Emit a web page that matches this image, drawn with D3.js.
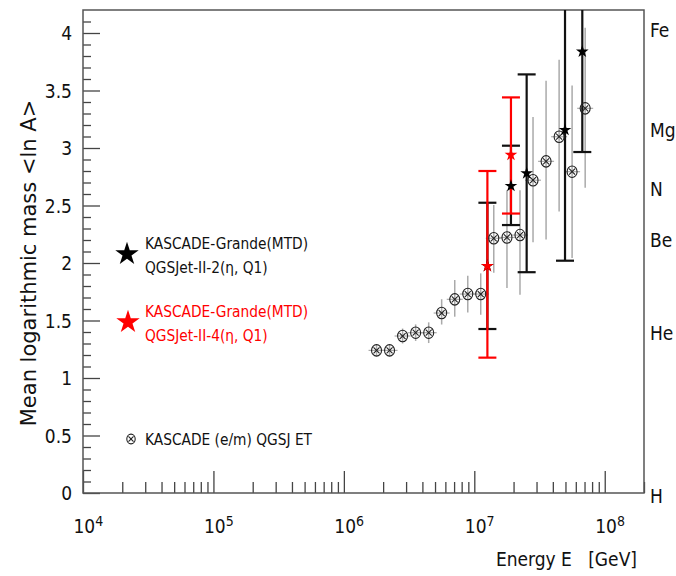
<!DOCTYPE html>
<html>
  <body style="margin:0;background:#fff">
    <style>
      svg { display: block; }
      text { font-family: "DejaVu Sans Condensed", "DejaVu Sans", sans-serif; font-stretch: condensed; }
      text.ytitle { font-family: "DejaVu Sans", sans-serif; font-stretch: normal; }
    </style>
    <script src="https://d3js.org/d3.v7.min.js"></script>
    <script type="text/javascript">
      const width = 676;
      const height = 576;

      // KASCADE (e/m) QGSJET
      const kasE = [1.78e6, 2.24e6, 2.82e6, 3.55e6, 4.47e6, 5.62e6, 7.08e6, 8.91e6, 1.12e7, 1.41e7, 1.78e7, 2.24e7, 2.82e7, 3.55e7, 4.47e7, 5.62e7, 7.08e7];
      const kasLnA = [1.24, 1.24, 1.365, 1.394, 1.394, 1.565, 1.684, 1.73, 1.73, 2.215, 2.222, 2.243, 2.72, 2.884, 3.098, 2.794, 3.345];
      const kasErrUp = [0.05, 0.05, 0.065, 0.072, 0.09, 0.12, 0.168, 0.16, 0.18, 0.29, 0.41, 0.39, 0.55, 0.70, 0.67, 0.75, 0.70];
      const kasErrDn = [0.05, 0.05, 0.065, 0.072, 0.09, 0.1, 0.151, 0.16, 0.18, 0.30, 0.44, 0.52, 0.54, 0.68, 0.65, 0.75, 0.69];

      // KASCADE-Grande (MTD) QGSJet-II-2
      const q2E = [1.26e7, 1.91e7, 2.52e7, 4.96e7, 6.73e7];
      const q2LnA = [1.974, 2.67, 2.78, 3.157, 3.838];
      const q2Hi = [2.524, 3.02, 3.64, 4.5, 4.5];
      const q2Lo = [1.426, 2.33, 1.92, 2.02, 2.965];

      // KASCADE-Grande (MTD) QGSJet-II-4
      const q4E = [1.26e7, 1.91e7];
      const q4LnA = [1.974, 2.94];
      const q4Hi = [2.80, 3.44];
      const q4Lo = [1.177, 2.43];

      const yMajor = [0, 0.5, 1, 1.5, 2, 2.5, 3, 3.5, 4];
      const xMajor = [1e4, 1e5, 1e6, 1e7, 1e8];
      const elements = ['Fe', 'Mg', 'N', 'Be', 'He', 'H'];
      const elementLnA = [4.03, 3.16, 2.64, 2.2, 1.39, -0.03];

      const mLeft = 83, mRight = 644, mTop = 10, mBottom = 493;

      const svg = d3.select('body')
        .append('svg')
        .attr('width', width)
        .attr('height', height);

      const x = d3.scaleLog().domain([1e4, 2e8]).range([mLeft, mRight]);
      const y = d3.scaleLinear().domain([0, 4.2]).range([mBottom, mTop]);

      svg.append('clipPath').attr('id', 'clip')
        .append('rect').attr('x', mLeft).attr('y', mTop).attr('width', mRight - mLeft).attr('height', mBottom - mTop);

      // minor ticks
      const yMinor = d3.range(0, 42).map((i) => i / 10).filter((v) => !yMajor.some((m) => Math.abs(m - v) < 1e-6));
      svg.append('g')
        .attr('transform', `translate(${mLeft},0)`)
        .call(d3.axisLeft(y).tickValues(yMinor).tickSize(-8).tickFormat(''))
        .call((g) => g.select('.domain').remove());

      const xMinor = [];
      [1e4, 1e5, 1e6, 1e7, 1e8].forEach((d) => [2, 3, 4, 5, 6, 7, 8, 9].forEach((k) => { if (d * k <= 2e8) xMinor.push(d * k) }));
      svg.append('g')
        .attr('transform', `translate(0,${mBottom})`)
        .call(d3.axisBottom(x).tickValues(xMinor).tickSize(-11).tickFormat(''))
        .call((g) => g.select('.domain').remove());

      // major ticks + labels
      const yAxis = svg.append('g')
        .attr('transform', `translate(${mLeft},0)`)
        .call(d3.axisLeft(y).tickValues(yMajor).tickSize(-17).tickPadding(11).tickFormat((d) => d))
        .call((g) => g.select('.domain').remove());
      yAxis.selectAll('text').attr('font-size', 19).attr('fill', '#111').attr('dy', '0.36em');

      const xAxis = svg.append('g')
        .attr('transform', `translate(0,${mBottom})`)
        .call(d3.axisBottom(x).tickValues(xMajor).tickSize(-22).tickPadding(27).tickFormat(''))
        .call((g) => g.select('.domain').remove());
      xAxis.selectAll('.tick text')
        .attr('font-size', 19)
        .attr('fill', '#111')
        .attr('text-anchor', 'start')
        .attr('x', -10)
        .each(function (d) {
          const t = d3.select(this);
          t.append('tspan').text('10');
          t.append('tspan').attr('dy', '-0.5em').attr('font-size', 14).text(Math.round(Math.log10(d)));
        });

      svg.selectAll('.tick line').attr('stroke', '#444').attr('stroke-width', 1.3);

      // frame
      svg.append('rect')
        .attr('x', mLeft).attr('y', mTop)
        .attr('width', mRight - mLeft).attr('height', mBottom - mTop)
        .attr('fill', 'none').attr('stroke', '#555').attr('stroke-width', 1.5);

      const plot = svg.append('g').attr('clip-path', 'url(#clip)');

      // KASCADE gray error bars
      plot.append('g').selectAll('line')
        .data(kasE)
        .join('line')
        .attr('x1', (d) => x(d)).attr('x2', (d) => x(d))
        .attr('y1', (d, i) => y(kasLnA[i] + kasErrUp[i]))
        .attr('y2', (d, i) => y(kasLnA[i] - kasErrDn[i]))
        .attr('stroke', '#aaa').attr('stroke-width', 1.5);
      plot.append('g').selectAll('line')
        .data(kasE)
        .join('line')
        .attr('x1', (d) => x(d) - 8).attr('x2', (d) => x(d) + 8)
        .attr('y1', (d, i) => y(kasLnA[i])).attr('y2', (d, i) => y(kasLnA[i]))
        .attr('stroke', '#aaa').attr('stroke-width', 1.2);

      // Grande error bars
      function errBars(E, hi, lo, color) {
        const g = plot.append('g').attr('stroke', color).attr('stroke-width', 2.2);
        g.selectAll('line.v').data(E).join('line').attr('class', 'v')
          .attr('x1', (d) => x(d)).attr('x2', (d) => x(d))
          .attr('y1', (d, i) => y(hi[i])).attr('y2', (d, i) => y(lo[i]));
        g.selectAll('line.hi').data(E).join('line').attr('class', 'hi')
          .attr('x1', (d) => x(d) - 9).attr('x2', (d) => x(d) + 9)
          .attr('y1', (d, i) => y(hi[i])).attr('y2', (d, i) => y(hi[i]));
        g.selectAll('line.lo').data(E).join('line').attr('class', 'lo')
          .attr('x1', (d) => x(d) - 9).attr('x2', (d) => x(d) + 9)
          .attr('y1', (d, i) => y(lo[i])).attr('y2', (d, i) => y(lo[i]));
      }
      errBars(q2E, q2Hi, q2Lo, '#111');
      errBars(q4E, q4Hi, q4Lo, '#ff0000');

      // circled-x marker
      function otimes(g, cx, cy, r) {
        const m = g.append('g').attr('transform', `translate(${cx},${cy})`)
          .attr('stroke', '#222').attr('fill', 'none').attr('stroke-width', 1.1);
        m.append('ellipse').attr('rx', r).attr('ry', r * 1.15);
        const k = r * 0.6;
        m.append('line').attr('x1', -k).attr('y1', -k).attr('x2', k).attr('y2', k);
        m.append('line').attr('x1', -k).attr('y1', k).attr('x2', k).attr('y2', -k);
      }
      const kasG = plot.append('g');
      kasE.forEach((d, i) => otimes(kasG, x(d), y(kasLnA[i]), 5));

      const star = d3.symbol().type(d3.symbolStar);
      plot.append('g').selectAll('path')
        .data(q2E).join('path')
        .attr('transform', (d, i) => `translate(${x(d)},${y(q2LnA[i])})`)
        .attr('d', star.size(50)())
        .attr('fill', '#000');
      plot.append('g').selectAll('path')
        .data(q4E).join('path')
        .attr('transform', (d, i) => `translate(${x(d)},${y(q4LnA[i])})`)
        .attr('d', star.size(50)())
        .attr('fill', '#ff0000');

      // legend
      const legend = svg.append('g');
      legend.append('path').attr('transform', 'translate(127,254)').attr('d', star.size(170)()).attr('fill', '#000');
      legend.append('path').attr('transform', 'translate(128,322)').attr('d', star.size(170)()).attr('fill', '#ff0000');
      const lt = [
        ['KASCADE-Grande(MTD)', 249, '#111'],
        ['QGSJet-II-2(η, Q1)', 273, '#111'],
        ['KASCADE-Grande(MTD)', 317, '#ff0000'],
        ['QGSJet-II-4(η, Q1)', 341, '#ff0000'],
        ['KASCADE (e/m) QGSJ ET', 445, '#111'],
      ];
      legend.selectAll('text').data(lt).join('text')
        .attr('x', 145).attr('y', (d) => d[1])
        .attr('fill', (d) => d[2]).attr('font-size', 15.3)
        .text((d) => d[0]);
      otimes(legend, 131, 439, 4.2);

      // element labels on right
      svg.append('g').selectAll('text')
        .data(elements).join('text')
        .attr('x', 650).attr('y', (d, i) => y(elementLnA[i]) + 7)
        .attr('font-size', 19).attr('fill', '#111')
        .text((d) => d);

      // axis titles
      svg.append('text')
        .attr('class', 'ytitle')
        .attr('transform', 'translate(36,263) rotate(-90)')
        .attr('text-anchor', 'middle').attr('font-size', 21).attr('fill', '#111')
        .text('Mean logarithmic mass <ln A>');
      svg.append('text')
        .attr('x', 637).attr('y', 566)
        .attr('text-anchor', 'end').attr('font-size', 19).attr('fill', '#111')
        .style('white-space', 'pre')
        .text('Energy E   [GeV]');
    </script>
  </body>
</html>
